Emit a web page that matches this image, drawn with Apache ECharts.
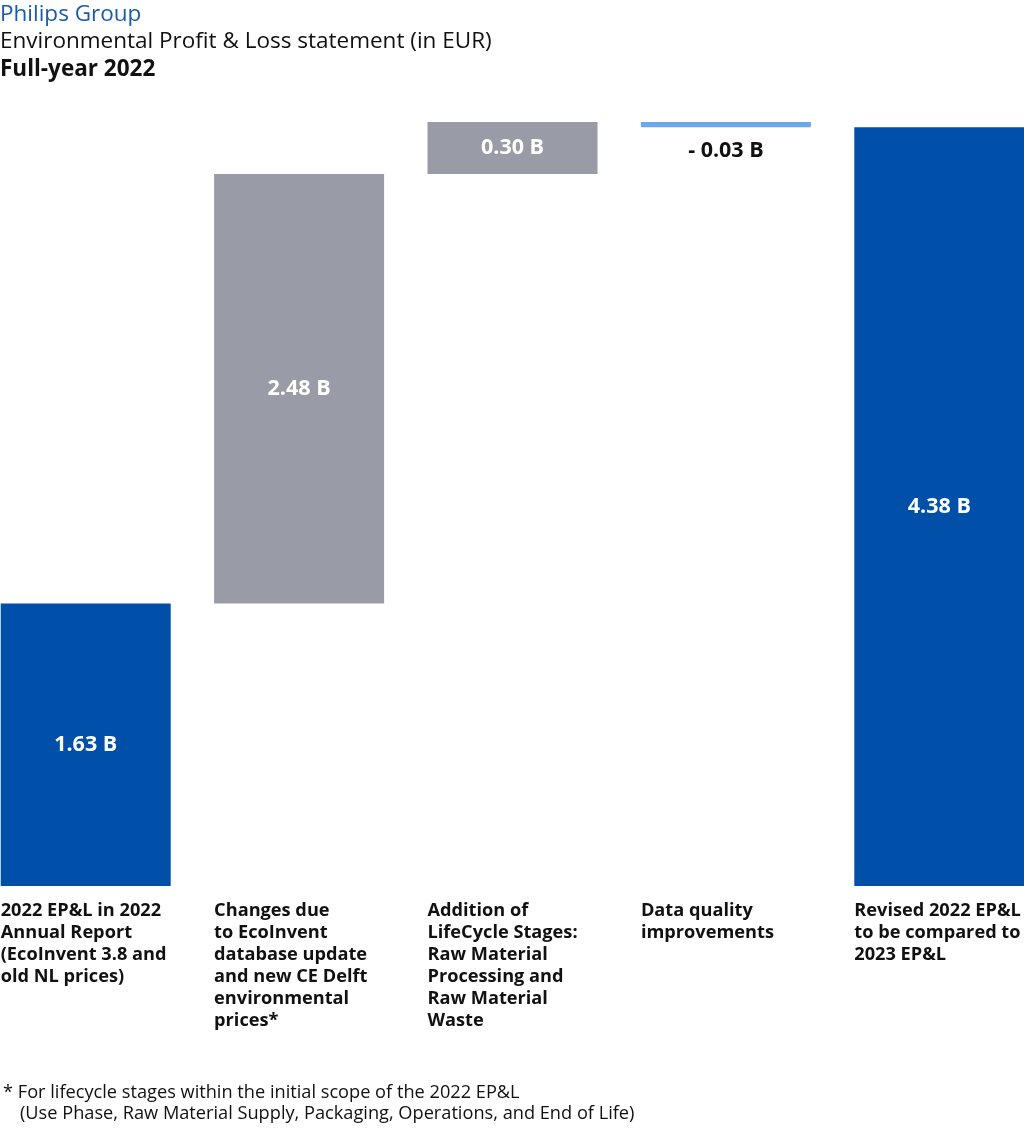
<!DOCTYPE html>
<html><head><meta charset="utf-8">
<script src="https://cdn.jsdelivr.net/npm/echarts@6/dist/echarts.min.js"></script>
<style>html,body{margin:0;padding:0;background:#fff}#c{width:1024px;height:1130px}</style>
</head><body><div id="c"></div>
<script>
const categories = [
  '2022 EP&L in 2022\nAnnual Report\n(EcoInvent 3.8 and\nold NL prices)',
  'Changes due\nto EcoInvent\ndatabase update\nand new CE Delft\nenvironmental\nprices*',
  'Addition of\nLifeCycle Stages:\nRaw Material\nProcessing and\nRaw Material\nWaste',
  'Data quality\nimprovements',
  'Revised 2022 EP&L\nto be compared to\n2023 EP&L'
];
const changes = [1.63, 2.48, 0.30, -0.03, 4.38];
const isTotal = [true, false, false, false, true];
const valueLabels = ['1.63 B', '2.48 B', '0.30 B', '- 0.03 B', '4.38 B'];
const barColors = ['#0050aa', '#999ba6', '#999ba6', '#6aa8ec', '#0050aa'];

// waterfall bases from running total
let running = 0;
const bases = [], heights = [];
changes.forEach((v, i) => {
  if (isTotal[i]) { bases.push(0); heights.push(v); running = v; }
  else if (v >= 0) { bases.push(running); heights.push(v); running += v; }
  else { running += v; bases.push(running); heights.push(-v); }
});

const FONT = '"Open Sans", "Noto Sans", sans-serif';
const chart = echarts.init(document.getElementById('c'));
chart.setOption({
  animation: false,
  textStyle: { fontFamily: FONT },
  title: [
    { text: 'Philips Group', left: 0, top: 3, padding: 0, textStyle: { fontFamily: FONT, fontSize: 22.5, fontWeight: 'normal', color: '#1a5aab' } },
    { text: 'Environmental Profit & Loss statement (in EUR)', left: 0, top: 30, padding: 0, textStyle: { fontFamily: FONT, fontSize: 22.5, fontWeight: 'normal', color: '#111' } },
    { text: 'Full-year 2022', left: 0, top: 58, padding: 0, textStyle: { fontFamily: FONT, fontSize: 22.5, fontWeight: 'bold', color: '#111' } },
    { text: '* For lifecycle stages within the initial scope of the 2022 EP&L', left: 3, top: 1084, padding: 0, textStyle: { fontFamily: FONT, fontSize: 18.2, fontWeight: 'normal', color: '#111' } },
    { text: '(Use Phase, Raw Material Supply, Packaging, Operations, and End of Life)', left: 20, top: 1105, padding: 0, textStyle: { fontFamily: FONT, fontSize: 18.2, fontWeight: 'normal', color: '#111' } }
  ],
  grid: { left: -21, right: -22, top: 122, bottom: 244, outerBoundsMode: 'none', containLabel: false },
  xAxis: {
    type: 'category', data: categories,
    axisLine: { show: false }, axisTick: { show: false }, splitLine: { show: false },
    axisLabel: {
      interval: 0, margin: 14,
      formatter: v => v.split('\n').map(l => '{a|' + l + '}').join('\n'),
      rich: { a: { width: 170, align: 'left', fontFamily: FONT, fontSize: 18.2, fontWeight: 'bold', lineHeight: 22, color: '#111' } }
    }
  },
  yAxis: { type: 'value', min: 0, max: 4.41, show: false, splitLine: { show: false } },
  series: [
    { type: 'bar', stack: 'w', data: bases, barWidth: 170, itemStyle: { color: 'transparent' }, silent: true },
    {
      type: 'bar', stack: 'w', barWidth: 170,
      data: heights.map((h, i) => ({
        value: h,
        itemStyle: { color: barColors[i] },
        label: changes[i] < 0
          ? { show: true, position: 'bottom', distance: 13, color: '#111' }
          : { show: true, position: 'inside', color: '#fff' }
      })),
      label: { fontFamily: FONT, fontSize: 21.5, fontWeight: 'bold', formatter: p => valueLabels[p.dataIndex] }
    }
  ]
});
</script></body></html>
